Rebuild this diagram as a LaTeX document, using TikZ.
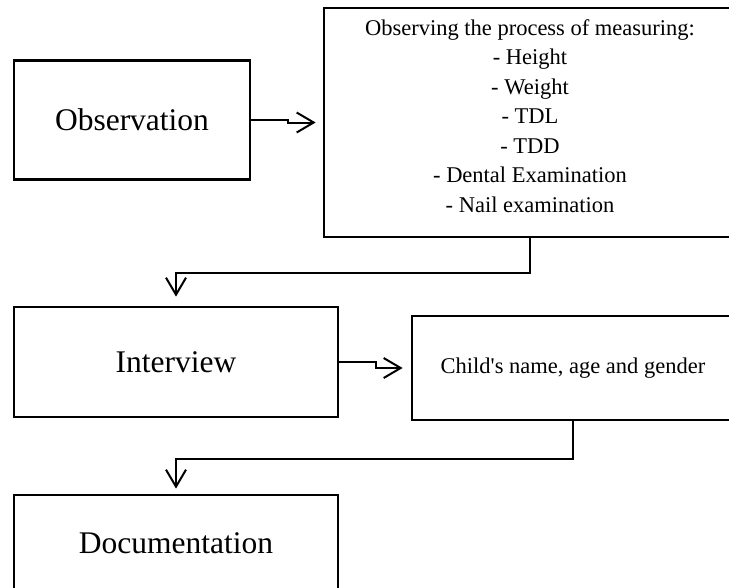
\documentclass[tikz,border=0pt]{standalone}
\usepackage{fontspec}
\setmainfont{Liberation Serif}
\newfontfamily\quotefont{Liberation Serif}
\usetikzlibrary{arrows.meta}

\begin{document}
\begin{tikzpicture}[x=1pt,y=-1pt,
  box/.style={draw,line width=2.7pt,inner sep=0pt},
  big/.style={font=\fontsize{31.5}{38}\selectfont},
  small/.style={font=\fontsize{22.5}{29.5}\selectfont,align=center},
  arr/.style={line width=2pt,-{Straight Barb[length=17pt,width=20pt]}}]
   \useasboundingbox (0,0) rectangle (729,587);
   \clip (0,0) rectangle (729,587);

   \node[box,big,minimum width=236pt,minimum height=119pt] (obs) at (132,120) {Observation};
   \node[box,minimum width=412pt,minimum height=229pt] (meas) at (530,122.5) {};
   \node[small] (measlist) at (530,116) {Observing the process of measuring:\\- Height\\- Weight\\- TDL\\- TDD\\- Dental Examination\\- Nail examination};
   \node[box,big,minimum width=324pt,minimum height=110pt] (int) at (176,362) {Interview};
   \node[box,small,minimum width=322pt,minimum height=104pt] (child) at (573,368) {Child{\quotefont'}s name, age and gender};
   \node[box,big,minimum width=324pt,minimum height=96pt] (doc) at (176,543) {Documentation};

   \draw[arr,shorten >=7pt] (obs.east) -- ++(37,0) |- (meas.west);
   \draw[arr,shorten >=9pt] (meas.south) -- ++(0,35) -| (int.north);
   \draw[arr,shorten >=8pt] (int.east) -- ++(37,0) |- (child.west);
   \draw[arr,shorten >=5pt] (child.south) -- ++(0,38) -| (doc.north);
\end{tikzpicture}
\end{document}
